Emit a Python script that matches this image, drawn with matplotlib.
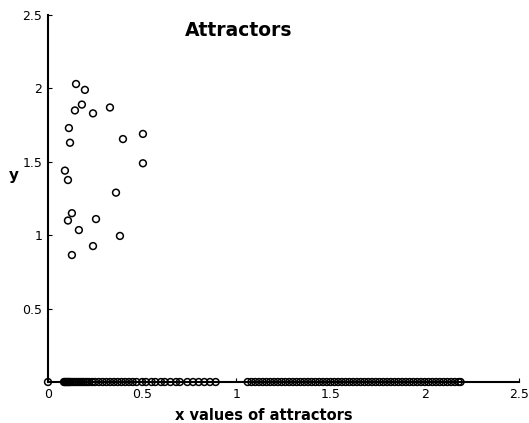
import numpy as np
import matplotlib
matplotlib.use("Agg")
import matplotlib.pyplot as plt

# points above the axis
x_pts = [0.149, 0.196, 0.18, 0.143, 0.239, 0.329, 0.111, 0.117, 0.398, 0.504,
         0.504, 0.09, 0.106, 0.361, 0.127, 0.106, 0.255, 0.164, 0.382, 0.239, 0.127]
y_pts = [2.03, 1.99, 1.89, 1.85, 1.83, 1.87, 1.73, 1.63, 1.655, 1.69,
         1.49, 1.44, 1.376, 1.29, 1.15, 1.10, 1.11, 1.035, 0.995, 0.926, 0.865]

# points lying on y = 0
x_zero = [0.0,
          0.085, 0.09, 0.095, 0.1, 0.105, 0.11, 0.115, 0.12, 0.13, 0.14, 0.15,
          0.16, 0.17, 0.18, 0.19, 0.2, 0.21, 0.22, 0.235, 0.25, 0.27, 0.29,
          0.31, 0.33, 0.35, 0.37, 0.39, 0.41, 0.43, 0.45, 0.47, 0.5, 0.52,
          0.55, 0.57, 0.6, 0.62, 0.65, 0.68, 0.7, 0.74, 0.77, 0.8, 0.83, 0.86, 0.89,
          1.06, 1.08, 1.1, 1.12, 1.14, 1.16, 1.18, 1.2, 1.22, 1.24, 1.26, 1.28,
          1.3, 1.32, 1.34, 1.36, 1.38, 1.4, 1.42, 1.44, 1.46, 1.48, 1.5, 1.52,
          1.54, 1.56, 1.58, 1.6, 1.62, 1.64, 1.66, 1.68, 1.7, 1.72, 1.74, 1.76,
          1.78, 1.8, 1.82, 1.84, 1.86, 1.88, 1.9, 1.92, 1.94, 1.96, 1.98, 2.0,
          2.02, 2.04, 2.06, 2.08, 2.1, 2.12, 2.14, 2.16, 2.18, 2.19]
y_zero = [0.0] * len(x_zero)

x_ticks = [0, 0.5, 1, 1.5, 2, 2.5]
x_tick_labels = ["0", "0.5", "1", "1.5", "2", "2.5"]
y_ticks = [0.5, 1, 1.5, 2, 2.5]
y_tick_labels = ["0.5", "1", "1.5", "2", "2.5"]

fig = plt.figure(figsize=(5.29, 4.23), dpi=100)
ax = fig.add_axes([0.0907, 0.0969, 0.8903, 0.8676])

ax.scatter(x_zero, y_zero, s=24, facecolors="none", edgecolors="black",
           linewidths=1.1, clip_on=False, zorder=3)
ax.scatter(x_pts, y_pts, s=24, facecolors="none", edgecolors="black",
           linewidths=1.1, clip_on=False, zorder=3)

ax.set_xlim(0, 2.5)
ax.set_ylim(0, 2.5)
ax.spines["top"].set_visible(False)
ax.spines["right"].set_visible(False)
ax.spines["left"].set_linewidth(1.5)
ax.spines["bottom"].set_linewidth(1.5)

ax.set_xticks(x_ticks)
ax.set_xticklabels(x_tick_labels)
ax.set_yticks(y_ticks)
ax.set_yticklabels(y_tick_labels)
ax.tick_params(direction="in", length=3, width=0.8, labelsize=9, pad=4)

ax.set_xlabel("x values of attractors", fontsize=10.5, fontweight="bold")
ax.xaxis.set_label_coords((264 - 48) / 471, -0.072)
fig.text(14 / 529, 1 - 175 / 423, "y", fontsize=11, fontweight="bold",
         ha="center", va="center")
fig.text(239 / 529, 1 - 30 / 423, "Attractors", fontsize=13.5, fontweight="bold",
         ha="center", va="center")

fig.savefig("out.png", dpi=100)
